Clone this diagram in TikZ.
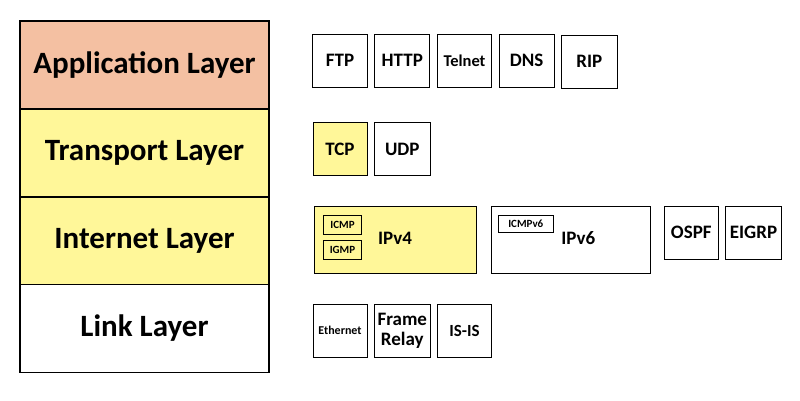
\documentclass[tikz,border=0pt]{standalone}
\usepackage{fontspec}
\setmainfont{Carlito}
\usepackage{tikz}
\usetikzlibrary{positioning,calc}

\definecolor{peach}{RGB}{244,192,162}
\definecolor{paleyellow}{RGB}{255,247,153}

\tikzset{
    layer/.style={draw=black, line width=1.6pt, minimum width=249, minimum height=88, font=\fontsize{31}{34}\selectfont\bfseries, inner sep=0pt},
    proto/.style={draw=black, line width=0.9pt, minimum width=54, minimum height=53, font=\fontsize{19}{21}\selectfont\bfseries, inner sep=0pt, align=center},
    sub/.style={draw=black, line width=0.9pt, minimum width=38, minimum height=19, font=\fontsize{11}{12}\selectfont\bfseries, inner sep=0pt}
}

\begin{document}
\begin{tikzpicture}[x=1pt, y=-1pt]
\useasboundingbox (0,0) rectangle (800,400);

% Layer stack
\node[layer, fill=peach] (app) at (144.5,64.9) {Application Layer};
\node[layer, fill=paleyellow] (trans) at (144.5,152.7) {Transport Layer};
\node[layer, fill=paleyellow] (inet) at (144.5,240.9) {Internet Layer};
\node[layer, fill=white] (link) at (144.5,328.5) {Link Layer};

% Application protocols
\foreach \x/\name/\label in {340/ftp/FTP, 402.3/http/HTTP, 526.7/dns/DNS} {
    \node[proto, minimum width=55] (\name) at (\x,60.7) {\label};
}
\node[proto, font=\fontsize{16.5}{18}\selectfont\bfseries] (telnet) at (464.5,60.7) {Telnet};
\node[proto, minimum width=56] (rip) at (589.3,61.7) {RIP};

% Transport protocols
\node[proto, fill=paleyellow] (tcp) at (340,149) {TCP};
\node[proto, minimum width=56] (udp) at (402.3,149) {UDP};

% Internet protocols
\node[proto, fill=paleyellow, minimum width=162, minimum height=67] (ipv4) at (395.3,239.7) {};
\node[font=\fontsize{19}{21}\selectfont\bfseries] (ipv4label) at (395,238.5) {IPv4};
\node[sub] (icmp) at (342.5,224.7) {ICMP};
\node[sub] (igmp) at (342.5,249.7) {IGMP};

\node[proto, minimum width=159, minimum height=67] (ipv6) at (571,239.7) {};
\node[font=\fontsize{19}{21}\selectfont\bfseries] (ipv6label) at (578.3,238.5) {IPv6};
\node[sub, minimum width=55, minimum height=17] (icmpv6) at (525.8,224.2) {ICMPv6};

\node[proto] (ospf) at (691.3,232.7) {OSPF};
\node[proto, minimum width=56] (eigrp) at (753.5,232.7) {EIGRP};

% Link protocols
\node[proto, font=\fontsize{12}{13}\selectfont\bfseries] (ethernet) at (340,330.8) {Ethernet};
\node[proto, minimum width=56, font=\fontsize{19}{20}\selectfont\bfseries] (frame) at (402.3,330.8) {Frame\\Relay};
\node[proto, font=\fontsize{17}{18}\selectfont\bfseries] (isis) at (464.5,330.8) {IS-IS};

\end{tikzpicture}
\end{document}
